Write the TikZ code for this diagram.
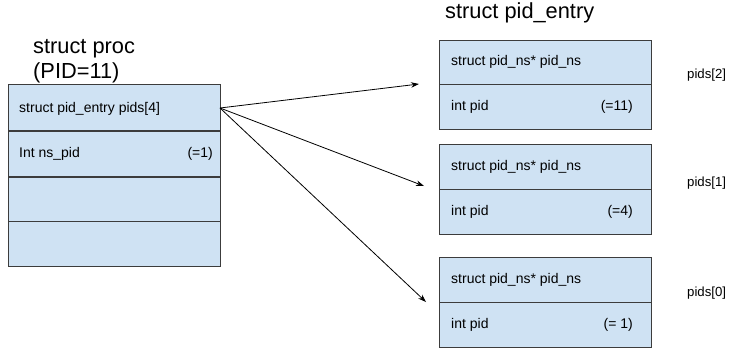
\documentclass[tikz,border=0pt]{standalone}
\usepackage{fontspec}
\setmainfont{Liberation Sans}
\usetikzlibrary{arrows.meta}
\definecolor{cellfill}{RGB}{207,226,243}
\definecolor{cellline}{RGB}{60,60,60}
\tikzset{
  cell/.style={draw=cellline, fill=cellfill, line width=0.9pt, rectangle,
    minimum width=212pt, inner sep=0pt, outer sep=0pt, anchor=north west},
  fieldtext/.style={font=\fontsize{14}{16}\selectfont, inner sep=0pt},
  titletext/.style={font=\fontsize{21.8}{25}\selectfont, inner sep=0pt, anchor=base west},
  sidetext/.style={font=\fontsize{13.2}{15}\selectfont, inner sep=0pt, anchor=west},
  ptr/.style={draw=black, line width=0.8pt, -{Stealth[length=8pt,width=5.5pt]}}
}
\begin{document}
\begin{tikzpicture}[x=1pt,y=-1pt]
  \useasboundingbox (0,0) rectangle (746,351);

  % struct proc
  \node[titletext] (proctitle) at (33,53) {struct proc};
  \node[titletext] (procpid) at (33,78) {(PID=11)};

  \node[cell, minimum height=46pt] (p1) at (8,84) {};
  \node[cell, minimum height=45pt] (p2) at (8,131) {};
  \node[cell, minimum height=44pt] (p3) at (8,177) {};
  \node[cell, minimum height=45pt] (p4) at (8,221) {};

  \node[fieldtext, anchor=west] (p1a) at ([xshift=11pt,yshift=-2pt]p1.west) {struct pid\_entry pids[4]};
  \node[fieldtext, anchor=west] (p2a) at ([xshift=11pt]p2.west) {Int ns\_pid};
  \node[fieldtext, anchor=east] (p2b) at ([xshift=-7pt]p2.east) {(=1)};

  % struct pid_entry
  \node[titletext] (entrytitle) at (445,18) {struct pid\_entry};

  \node[cell, minimum height=44pt] (a1) at (439,40) {};
  \node[cell, minimum height=45pt] (a2) at (439,84) {};
  \node[cell, minimum height=45pt] (b1) at (439,144) {};
  \node[cell, minimum height=45pt] (b2) at (439,189) {};
  \node[cell, minimum height=45pt] (c1) at (439,257) {};
  \node[cell, minimum height=45pt] (c2) at (439,302) {};

  \foreach \r in {a1,b1,c1}
    \node[fieldtext, anchor=west] (\r t) at ([xshift=12pt]\r.west) {struct pid\_ns* pid\_ns};
  \foreach \r in {a2,b2,c2}
    \node[fieldtext, anchor=west] (\r t) at ([xshift=12pt]\r.west) {int pid};
  \node[fieldtext, anchor=east] (a2v) at ([xshift=-18pt]a2.east) {(=11)};
  \node[fieldtext, anchor=east] (b2v) at ([xshift=-18pt]b2.east) {(=4)};
  \node[fieldtext, anchor=east] (c2v) at ([xshift=-18pt]c2.east) {(= 1)};

  \node[sidetext] (s2) at (687,75) {pids[2]};
  \node[sidetext] (s1) at (687,183) {pids[1]};
  \node[sidetext] (s0) at (687,293) {pids[0]};

  % pointers from pids[4]
  \coordinate (src) at (220,108);
  \coordinate (t2) at (419,84);
  \coordinate (t1) at (424,186);
  \coordinate (t0) at (426,302);
  \draw[ptr] (src) -- (t2);
  \draw[ptr] (src) -- (t1);
  \draw[ptr] (src) -- (t0);
\end{tikzpicture}
\end{document}
